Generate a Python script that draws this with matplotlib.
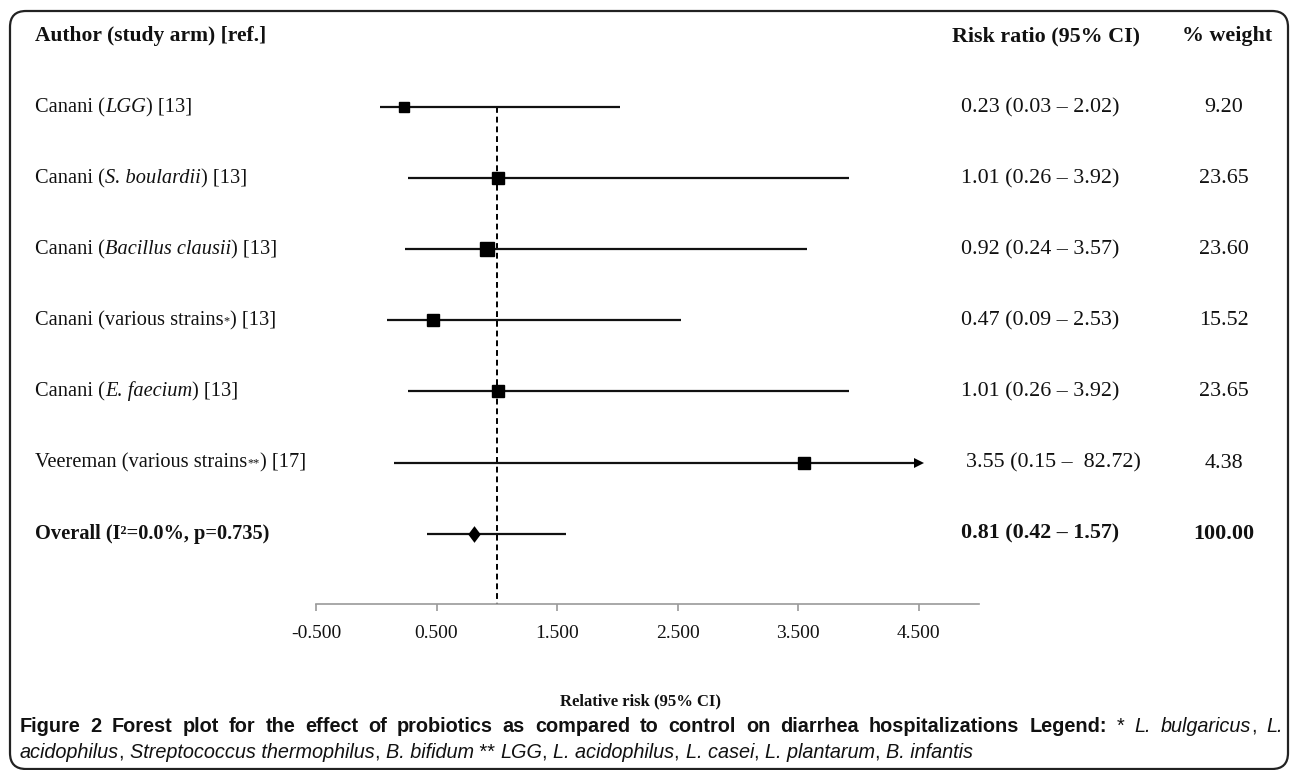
import matplotlib
matplotlib.use("Agg")
import matplotlib.pyplot as plt
from matplotlib.transforms import IdentityTransform
from matplotlib.patches import FancyBboxPatch
import matplotlib.font_manager as fm

# ---------------- data ----------------
studies = ["Canani (LGG) [13]", "Canani (S. boulardii) [13]", "Canani (Bacillus clausii) [13]",
           "Canani (various strains*) [13]", "Canani (E. faecium) [13]",
           "Veereman (various strains**) [17]", "Overall (I²=0.0%, p=0.735)"]
rr = [0.23, 1.01, 0.92, 0.47, 1.01, 3.55, 0.81]
ci_lo = [0.03, 0.26, 0.24, 0.09, 0.26, 0.15, 0.42]
ci_hi = [2.02, 3.92, 3.57, 2.53, 3.92, 82.72, 1.57]
weights = [9.20, 23.65, 23.60, 15.52, 23.65, 4.38, 100.00]
rr_text = ["0.23 (0.03 – 2.02)", "1.01 (0.26 – 3.92)", "0.92 (0.24 – 3.57)",
           "0.47 (0.09 – 2.53)", "1.01 (0.26 – 3.92)", "3.55 (0.15 –  82.72)",
           "0.81 (0.42 – 1.57)"]
xticks = [-0.5, 0.5, 1.5, 2.5, 3.5, 4.5]
x_max_display = 4.5

label_segs = [
    [("Canani (", "n"), ("LGG", "i"), (") [13]", "n")],
    [("Canani (", "n"), ("S. boulardii", "i"), (") [13]", "n")],
    [("Canani (", "n"), ("Bacillus clausii", "i"), (") [13]", "n")],
    [("Canani (various strains", "n"), ("*", "s"), (") [13]", "n")],
    [("Canani (", "n"), ("E. faecium", "i"), (") [13]", "n")],
    [("Veereman (various strains", "n"), ("**", "s"), (") [17]", "n")],
    [("Overall (I²=0.0%, p=0.735)", "b")],
]

W, H = 1290, 770
SERIF = ["Liberation Serif", "DejaVu Serif"]
try:
    fm.findfont(fm.FontProperties(family="Liberation Sans Narrow"), fallback_to_default=False)
    CAP = ["Liberation Sans Narrow", "DejaVu Sans"]
    NARROW = True
except Exception:
    CAP = ["Liberation Sans", "DejaVu Sans"]
    NARROW = False

FS = 14.7
FS_COL = 15.8
INK = "#111111"

fig = plt.figure(figsize=(W / 100, H / 100), dpi=100)
renderer = fig.canvas.get_renderer()

ax_l, ax_r, ax_t, ax_b = 316, 979, 60, 604
ax = fig.add_axes([ax_l / W, 1 - ax_b / H, (ax_r - ax_l) / W, (ax_b - ax_t) / H])
ax.set_xlim(-0.5, 5.0)
row0, dy = 107, 71.1
ax.set_ylim((ax_b - row0) / dy, (ax_t - row0) / dy)

for s in ["top", "right", "left"]:
    ax.spines[s].set_visible(False)
ax.spines["bottom"].set_color("#9a9a9a")
ax.spines["bottom"].set_linewidth(1.2)
ax.set_yticks([])
ax.set_xticks(xticks)
ax.set_xticklabels([f"{t:.3f}" for t in xticks], fontfamily=SERIF, fontsize=14, color=INK)
ax.tick_params(axis="x", direction="out", length=5, width=1.2, color="#9a9a9a", pad=10)
ax.patch.set_alpha(0)

n = len(rr)
ax.plot([1, 1], [0, (ax_b - row0) / dy], color="black", lw=1.4, ls=(0, (3, 2)), zorder=1)

diamond = [(0, 1), (0.75, 0), (0, -1), (-0.75, 0), (0, 1)]
msizes = [7.5, 8.2, 9.5, 8.0, 8.6, 8.4]
for i in range(n):
    hi = min(ci_hi[i], x_max_display)
    ax.plot([ci_lo[i], hi], [i, i], color=INK, lw=1.6, zorder=2, solid_capstyle="butt")
    if i < n - 1:
        ax.plot(rr[i], i, marker="s", ms=msizes[i], color="black", zorder=3)
    else:
        ax.plot(rr[i], i, marker=diamond, ms=12, color="black", zorder=3, markeredgewidth=0)
    if ci_hi[i] > x_max_display:
        ax.plot(x_max_display, i, marker=">", ms=7, color="black", zorder=3, markeredgewidth=0)

ID = IdentityTransform()


def row_px(i):
    return row0 + i * dy


def style_kw(st, size):
    kw = dict(fontsize=size)
    if st == "i":
        kw["fontstyle"] = "italic"
    elif st == "b":
        kw["fontweight"] = "bold"
    elif st == "s":
        kw["fontsize"] = size * 0.6
    return kw


def rich(x, y, segs, size, family):
    """draw segments left to right from pixel x, baseline y (from top)."""
    cx = x
    for txt, st in segs:
        yy = H - y + (1 if st == "s" else 0)
        t = fig.text(cx, yy, txt, transform=ID, va="baseline", ha="left",
                     fontfamily=family, color=INK, **style_kw(st, size))
        cx += t.get_window_extent(renderer=renderer).width
    return cx


def rich_justified(x, y, segs, size, family, right):
    """caption line spread over word gaps so that it ends at pixel `right`."""
    tokens = []
    for txt, st in segs:
        parts = txt.split(" ")
        for k, p in enumerate(parts):
            if p:
                tokens.append((p, st, False))
            if k < len(parts) - 1:
                tokens.append((" ", st, True))
    arts, widths = [], []
    space_w = None
    for txt, st, isgap in tokens:
        if isgap:
            arts.append(None)
            probe = fig.text(0, 0, "a a", transform=ID, fontfamily=family, **style_kw(st, size))
            probe2 = fig.text(0, 0, "aa", transform=ID, fontfamily=family, **style_kw(st, size))
            w = (probe.get_window_extent(renderer=renderer).width
                 - probe2.get_window_extent(renderer=renderer).width)
            probe.remove(); probe2.remove()
            widths.append(w)
            continue
        t = fig.text(0, H - y, txt, transform=ID, va="baseline", ha="left",
                     fontfamily=family, color=INK, **style_kw(st, size))
        arts.append(t)
        widths.append(t.get_window_extent(renderer=renderer).width)
    ngaps = sum(1 for tk in tokens if tk[2])
    extra = (right - x - sum(widths)) / ngaps if ngaps else 0
    cx = x
    for (txt, st, isgap), t, w in zip(tokens, arts, widths):
        if t is not None:
            t.set_x(cx)
        cx += w + (extra if isgap else 0)


# headers
fig.text(35, H - 41, "Author (study arm) [ref.]", transform=ID, fontfamily=SERIF,
         fontsize=15.5, fontweight="bold", va="baseline", color=INK)
fig.text(1046, H - 41, "Risk ratio (95% CI)", transform=ID, fontfamily=SERIF,
         fontsize=FS_COL, fontweight="bold", va="baseline", ha="center", color=INK)
fig.text(1227, H - 41, "% weight", transform=ID, fontfamily=SERIF,
         fontsize=FS_COL, fontweight="bold", va="baseline", ha="center", color=INK)

for i in range(n):
    base = row_px(i) + 5
    rich(35, base, label_segs[i], FS, SERIF)
    bold = "bold" if i == n - 1 else "normal"
    fig.text(961 if i != 5 else 966, H - base, rr_text[i], transform=ID,
             fontfamily=SERIF, fontsize=FS_COL, fontweight=bold, va="baseline", ha="left",
             color=INK)
    fig.text(1224, H - base, f"{weights[i]:.2f}", transform=ID, fontfamily=SERIF,
             fontsize=FS_COL, fontweight=bold, va="baseline", ha="center", color=INK)

fig.text(640, H - 705, "Relative risk (95% CI)", transform=ID, fontfamily=SERIF,
         fontsize=12, fontweight="bold", va="baseline", ha="center", color=INK)

# caption
cap1 = [("Figure 2 Forest plot for the effect of probiotics as compared to control on diarrhea hospitalizations Legend:", "b"),
        (" * ", "n"), ("L. bulgaricus", "i"), (", ", "n"), ("L.", "i")]
cap2 = [("acidophilus", "i"), (", ", "n"), ("Streptococcus thermophilus", "i"), (", ", "n"),
        ("B. bifidum", "i"), (" ** ", "n"), ("LGG", "i"), (", ", "n"), ("L. acidophilus", "i"),
        (", ", "n"), ("L. casei", "i"), (", ", "n"), ("L. plantarum", "i"), (", ", "n"),
        ("B. infantis", "i")]
cap_fs = 15.0 if NARROW else 14.3
rich_justified(20, 732, cap1, cap_fs, CAP, 1283)
rich(20, 758, cap2, cap_fs, CAP)

box = FancyBboxPatch((10, 1), 1278, 758, boxstyle="round,pad=0,rounding_size=16",
                     transform=ID, fill=False, edgecolor="#222222", linewidth=1.6)
fig.add_artist(box)

fig.savefig("out.png", dpi=100)
